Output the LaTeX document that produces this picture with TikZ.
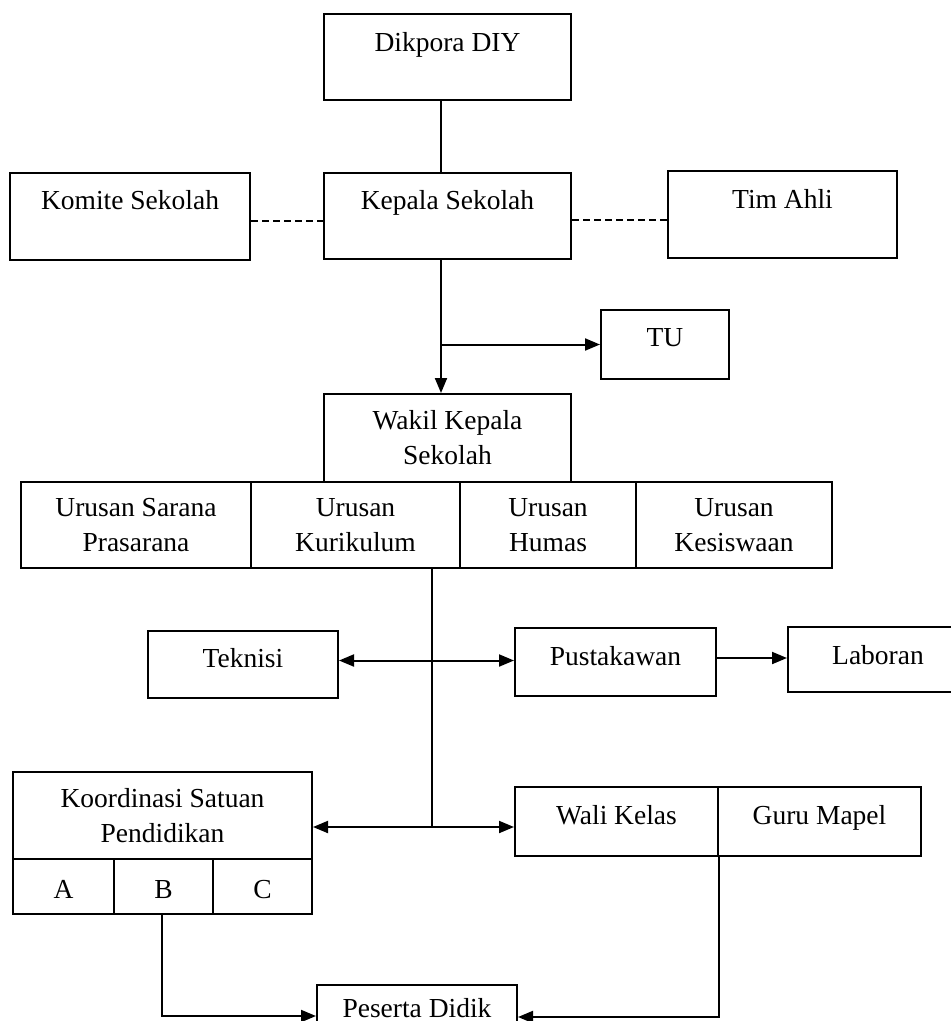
\documentclass[tikz,border=0pt]{standalone}
\usepackage{fontspec}
\setmainfont{Liberation Serif}
\usetikzlibrary{arrows.meta,calc}
\begin{document}
\begin{tikzpicture}[x=1pt,y=-1pt,
  every node/.style={font=\fontsize{27.5}{35}\selectfont},
  bx/.style={draw,line width=2pt,rectangle,inner xsep=0pt,inner ysep=0pt,align=center,anchor=north west},
  ln/.style={line width=2pt},
  arr/.style={ln,-{Triangle[length=15pt,width=12pt]}},
  arr2/.style={ln,{Triangle[length=15pt,width=12pt]}-{Triangle[length=15pt,width=12pt]}},
  dsh/.style={line width=2pt,dash pattern=on 7pt off 4pt}]
\useasboundingbox (0,0) rectangle (951,1021);
\fill[white] (0,0) rectangle (951,1021);
\clip (0,0) rectangle (951,1021);

% boxes
\node[bx,minimum width=247,text height=37,text depth=49] (dik) at (323,13) {Dikpora DIY};
\node[bx,minimum width=240,text height=36,text depth=51] (kom) at (9,172) {Komite Sekolah};
\node[bx,minimum width=247,text height=36,text depth=50] (kep) at (323,172) {Kepala Sekolah};
\node[bx,minimum width=229,text height=37,text depth=50] (tim) at (667,170) {Tim Ahli};
\node[bx,minimum width=128,text height=36,text depth=33] (tu) at (600,309) {TU};
\node[bx,minimum width=247,minimum height=88] (wak) at (323,393) {Wakil Kepala\\Sekolah};
\node[bx,minimum width=230,minimum height=86] (usp) at (20,481) {Urusan Sarana\\Prasarana};
\node[bx,minimum width=209,minimum height=86] (ukur) at (250,481) {Urusan\\Kurikulum};
\node[bx,minimum width=176,minimum height=86] (uhum) at (459,481) {Urusan\\Humas};
\node[bx,minimum width=196,minimum height=86] (ukes) at (635,481) {Urusan\\Kesiswaan};
\node[bx,minimum width=190,text height=36,text depth=31] (tek) at (147,630) {Teknisi};
\node[bx,minimum width=201,text height=37,text depth=31] (pus) at (514,627) {Pustakawan};
\node[bx,minimum width=180,text height=37,text depth=28] (lab) at (787,626) {Laboran};
\node[bx,minimum width=299,minimum height=87] (koo) at (12,771) {Koordinasi Satuan\\Pendidikan};
\node[bx,minimum width=101,text height=39,text depth=16] (ca) at (12,858) {A};
\node[bx,minimum width=99,text height=39,text depth=16] (cb) at (113,858) {B};
\node[bx,minimum width=99,text height=39,text depth=16] (cc) at (212,858) {C};
\node[bx,minimum width=203,text height=37,text depth=32] (wal) at (514,786) {Wali Kelas};
\node[bx,minimum width=203,text height=37,text depth=32] (gur) at (717,786) {Guru Mapel};
\node[bx,minimum width=200,text height=32,text depth=42] (pes) at (316,984) {Peserta Didik};

% connectors
\coordinate (sp) at ([xshift=-6.5]kep.south);
\draw[ln] ([xshift=-6.5]dik.south) -- ([xshift=-6.5]kep.north);
\draw[dsh] ([yshift=-4.5]kom.east) -- ([yshift=-4.5]kom.east -| kep.west);
\draw[dsh] ([yshift=-4]kep.east) -- ([yshift=-4]kep.east -| tim.west);
\draw[arr] (sp) -- (sp |- wak.north);
\draw[arr] (sp |- tu.west) -- (tu.west);

\coordinate (sp2) at ([xshift=-27]uhum.south west);
\coordinate (h) at ([yshift=-5.5]wal.west);
\draw[ln] (sp2) -- (sp2 |- h);
\draw[arr2] ([yshift=4]tek.east) -- ([yshift=4]tek.east -| pus.west);
\draw[arr] ([yshift=4]pus.east) -- ([yshift=4]pus.east -| lab.west);
\draw[arr2] (h -| koo.east) -- (h);

\coordinate (pl) at ([yshift=6]pes.west);
\coordinate (pr) at ([yshift=5]pes.east);
\draw[arr] ([xshift=-1.5]cb.south) -- ([xshift=-1.5]cb.south |- pl) -- (pl);
\draw[arr] (wal.south east) -- (wal.south east |- pr) -- (pr);
\end{tikzpicture}
\end{document}
